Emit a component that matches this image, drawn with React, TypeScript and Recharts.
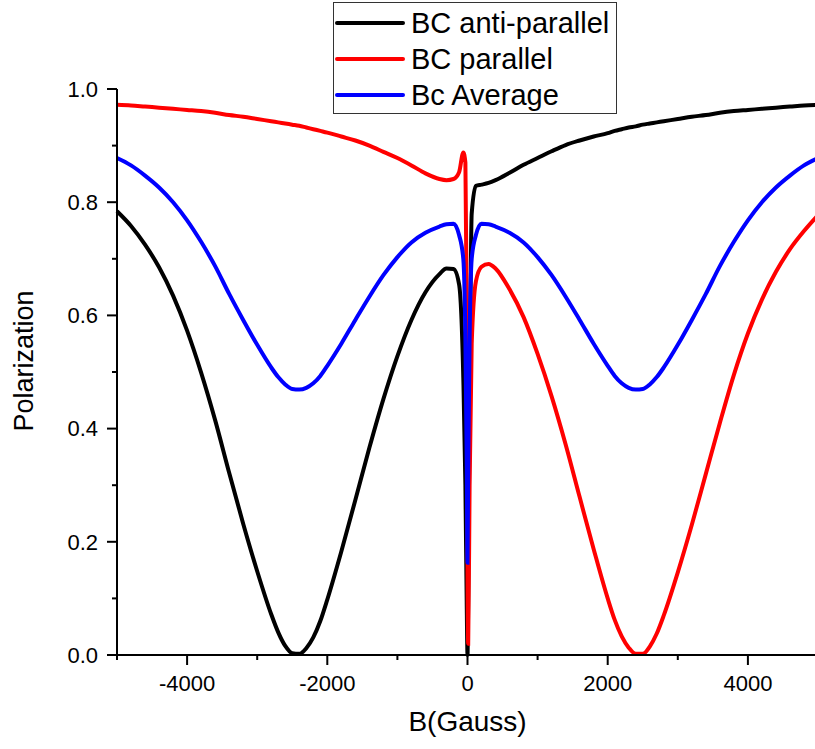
import { LineChart, Line, XAxis, YAxis, Legend, Label } from "recharts"

// field in Gauss
const bField = [
  -5000, -4800, -4600, -4400, -4200, -4000, -3800, -3600, -3400, -3200, -3000, -2800, -2700, -2600, -2500, -2400,
  -2300, -2200, -2100, -2000, -1800, -1600, -1400, -1200, -1000, -800, -600, -400, -300, -200, -120, -60, -30, -10,
  0,
  10, 30, 60, 120, 200, 300, 400, 600, 800, 1000, 1200, 1400, 1600, 1800, 2000, 2100, 2200, 2300, 2400, 2500, 2600,
  2700, 2800, 3000, 3200, 3400, 3600, 3800, 4000, 4200, 4400, 4600, 4800, 5000,
]

const antiParallel = [
  0.784, 0.758, 0.725, 0.685, 0.635, 0.573, 0.499, 0.415, 0.322, 0.232, 0.148, 0.072, 0.04, 0.016, 0.003, 0.002, 0.012,
  0.031, 0.06, 0.098, 0.183, 0.274, 0.366, 0.452, 0.528, 0.592, 0.641, 0.673, 0.683, 0.682, 0.655, 0.49, 0.3, 0.08,
  0.0,
  0.1, 0.45, 0.78, 0.829, 0.831, 0.834, 0.839, 0.852, 0.866, 0.878, 0.89, 0.901, 0.909, 0.916, 0.922, 0.926, 0.929,
  0.932, 0.934, 0.937, 0.939, 0.941, 0.943, 0.947, 0.951, 0.954, 0.958, 0.961, 0.963, 0.965, 0.967, 0.969, 0.971, 0.972,
]

const parallel = [
  0.972, 0.971, 0.969, 0.967, 0.965, 0.963, 0.961, 0.958, 0.954, 0.951, 0.947, 0.943, 0.941, 0.939, 0.937, 0.935, 0.932,
  0.929, 0.926, 0.923, 0.916, 0.909, 0.9, 0.889, 0.878, 0.865, 0.851, 0.841, 0.839, 0.841, 0.853, 0.888, 0.87, 0.6,
  0.15,
  0.02, 0.3, 0.55, 0.66, 0.686, 0.691, 0.683, 0.646, 0.597, 0.532, 0.457, 0.372, 0.279, 0.187, 0.1, 0.062, 0.033,
  0.013, 0.002, 0.002, 0.015, 0.038, 0.07, 0.146, 0.23, 0.32, 0.41, 0.495, 0.568, 0.628, 0.677, 0.717, 0.749, 0.777,
]

const average = [
  0.878, 0.865, 0.847, 0.826, 0.8, 0.768, 0.73, 0.687, 0.638, 0.592, 0.548, 0.508, 0.491, 0.478, 0.47, 0.469, 0.472,
  0.48, 0.493, 0.511, 0.55, 0.592, 0.633, 0.671, 0.703, 0.729, 0.746, 0.757, 0.761, 0.762, 0.742, 0.7, 0.56, 0.33,
  0.163,
  0.33, 0.56, 0.7, 0.742, 0.762, 0.761, 0.757, 0.746, 0.729, 0.703, 0.671, 0.633, 0.592, 0.55, 0.511, 0.493, 0.48,
  0.472, 0.469, 0.47, 0.478, 0.491, 0.508, 0.548, 0.592, 0.638, 0.687, 0.73, 0.768, 0.8, 0.826, 0.847, 0.865, 0.878,
]

const xTicks = [-5000, -4000, -3000, -2000, -1000, 0, 1000, 2000, 3000, 4000, 5000]
const xLabelled = [-4000, -2000, 0, 2000, 4000]
const yTicks = [0, 0.1, 0.2, 0.3, 0.4, 0.5, 0.6, 0.7, 0.8, 0.9, 1.0]
const yLabelled = [0, 0.2, 0.4, 0.6, 0.8, 1.0]

const series = [
  { key: "anti", name: "BC anti-parallel", color: "#000000", values: antiParallel },
  { key: "par", name: "BC parallel", color: "#ff0000", values: parallel },
  { key: "avg", name: "Bc Average", color: "#0000ff", values: average },
]

const data = bField.map((b, i) => {
  const row: Record<string, number> = { b }
  series.forEach((s) => (row[s.key] = s.values[i]))
  return row
})

const FONT = "'Liberation Sans', Arial, sans-serif"
const TICK_SIZE = 10
const TICK_GAP = 10

const XTick = ({ x, y, payload }: any) => {
  const major = xLabelled.includes(payload.value)
  const axisY = y - TICK_SIZE - TICK_GAP
  return (
    <g>
      <line x1={x} x2={x} y1={axisY} y2={axisY + (major ? 10 : 5)} stroke="#000" strokeWidth={2} />
      {major && (
        <text x={x} y={y} dy="0.71em" textAnchor="middle" fontSize={22} fontFamily={FONT} fill="#000">
          {payload.value}
        </text>
      )}
    </g>
  )
}

const YTick = ({ x, y, payload }: any) => {
  const major = yLabelled.some((v) => Math.abs(v - payload.value) < 1e-6)
  const axisX = x + TICK_SIZE + 9
  return (
    <g>
      <line x1={axisX} x2={axisX - (major ? 10 : 5)} y1={y} y2={y} stroke="#000" strokeWidth={2} />
      {major && (
        <text x={x} y={y} dy="0.355em" textAnchor="end" fontSize={22} fontFamily={FONT} fill="#000">
          {payload.value.toFixed(1)}
        </text>
      )}
    </g>
  )
}

const LegendBox = () => (
  <div
    style={{
      width: 284,
      height: 112,
      boxSizing: "border-box",
      border: "1.5px solid #333",
      background: "#fff",
      paddingTop: 2,
      fontFamily: FONT,
      fontSize: 29,
      color: "#000",
    }}
  >
    {series.map((s) => (
      <div key={s.key} style={{ display: "flex", alignItems: "center", height: 36 }}>
        <svg width={77} height={10} style={{ flex: "none" }}>
          <line x1={3} x2={69} y1={5} y2={5} stroke={s.color} strokeWidth={4} strokeLinecap="round" />
        </svg>
        <span style={{ whiteSpace: "nowrap" }}>{s.name}</span>
      </div>
    ))}
  </div>
)

export default function App() {
  return (
    <div style={{ position: "absolute", left: 0, top: 0, width: 815, height: 749, overflow: "hidden", background: "#fff" }}>
      <LineChart width={820} height={749} data={data} margin={{ top: 89, right: 2, left: 0, bottom: 0 }}>
        <XAxis
          dataKey="b"
          type="number"
          domain={[-5000, 5000]}
          ticks={xTicks}
          interval={0}
          height={94}
          tickSize={TICK_SIZE}
          tickMargin={TICK_GAP}
          tickLine={false}
          tick={<XTick />}
          axisLine={{ stroke: "#000", strokeWidth: 2 }}
        >
          <Label
            content={({ viewBox }: any) => (
              <text
                x={viewBox.x + viewBox.width / 2}
                y={viewBox.y + 76}
                textAnchor="middle"
                fontSize={28}
                fontFamily={FONT}
                fill="#000"
              >
                B(Gauss)
              </text>
            )}
          />
        </XAxis>
        <YAxis
          type="number"
          domain={[0, 1]}
          ticks={yTicks}
          interval={0}
          width={117}
          tickSize={TICK_SIZE}
          tickMargin={9}
          tickLine={false}
          tick={<YTick />}
          axisLine={{ stroke: "#000", strokeWidth: 2 }}
        >
          <Label
            content={({ viewBox }: any) => {
              const cx = 23
              const cy = viewBox.y + viewBox.height / 2 - 11
              return (
                <text
                  x={cx}
                  y={cy}
                  dy="0.355em"
                  transform={`rotate(-90 ${cx} ${cy})`}
                  textAnchor="middle"
                  fontSize={27}
                  fontFamily={FONT}
                  fill="#000"
                >
                  Polarization
                </text>
              )
            }}
          />
        </YAxis>
        <Legend
          layout="vertical"
          align="center"
          verticalAlign="middle"
          content={<LegendBox />}
          wrapperStyle={{ left: 333, top: 2, width: 284, height: 112, margin: 0 }}
        />
        {series.map((s) => (
          <Line
            key={s.key}
            type="monotone"
            dataKey={s.key}
            name={s.name}
            stroke={s.color}
            strokeWidth={4}
            dot={false}
            activeDot={false}
            isAnimationActive={false}
          />
        ))}
      </LineChart>
    </div>
  )
}
